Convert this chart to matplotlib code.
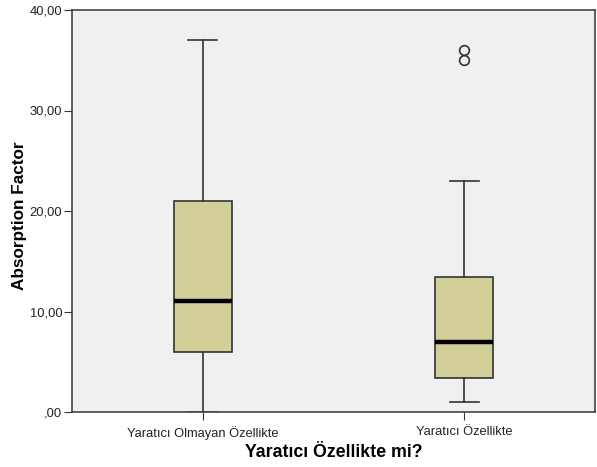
import matplotlib.pyplot as plt
import matplotlib
matplotlib.rcParams['font.family'] = ['Liberation Sans', 'DejaVu Sans']

categories = ['Yaratıcı Olmayan Özellikte', 'Yaratıcı Özellikte']
whislo = [0.0, 1.0]
q1 = [6.0, 3.4]
med = [11.0, 7.0]
q3 = [21.0, 13.45]
whishi = [37.0, 23.0]
fliers = [[], [36.0, 35.0]]

stats = []
for i in range(len(categories)):
    stats.append(dict(label=categories[i], whislo=whislo[i], q1=q1[i], med=med[i],
                      q3=q3[i], whishi=whishi[i], fliers=fliers[i]))

fig = plt.figure(figsize=(5.97, 4.67), dpi=100)
ax = fig.add_axes([72 / 597, 55 / 467, 523 / 597, 402 / 467])
ax.set_facecolor('#f0f0f0')

ax.bxp(stats, positions=[1, 2], widths=0.222, patch_artist=True,
       boxprops=dict(facecolor='#d3cf98', edgecolor='#333333', linewidth=1.2),
       medianprops=dict(color='black', linewidth=3.2),
       whiskerprops=dict(color='#333333', linewidth=1.2),
       capprops=dict(color='#333333', linewidth=1.2),
       capwidths=0.111,
       flierprops=dict(marker='o', markerfacecolor='none', markeredgecolor='#333333',
                       markersize=7, markeredgewidth=1.2))

ax.set_xlim(0.5, 2.5)
ax.set_ylim(0, 40)
ax.set_yticks([0, 10, 20, 30, 40])
ax.set_yticklabels([',00', '10,00', '20,00', '30,00', '40,00'])
ax.tick_params(axis='both', direction='out', length=6, color='#333333',
               labelsize=9.3, labelcolor='#222222')
ax.tick_params(axis='x', pad=4)
ax.tick_params(axis='y', pad=1)
for s in ax.spines.values():
    s.set_color('#444444')
    s.set_linewidth(1.2)

ax.set_xlabel('Yaratıcı Özellikte mi?', fontsize=12.8, fontweight='bold', labelpad=3)
ax.set_ylabel('Absorption Factor', fontsize=12.3, fontweight='bold')
ax.yaxis.set_label_coords(-0.086, 0.489)

plt.savefig('out.png', dpi=100)
